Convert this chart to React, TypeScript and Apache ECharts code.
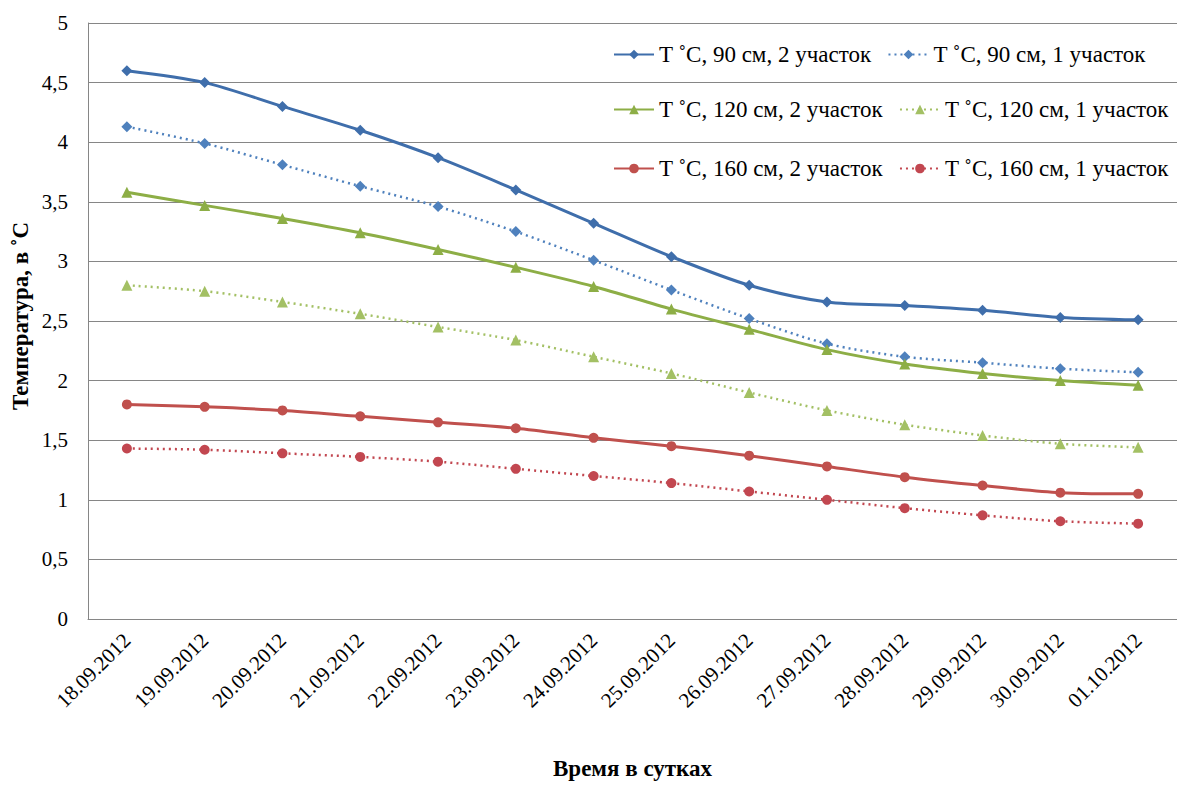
import React, { useEffect, useRef } from "react";
import * as echarts from "echarts";

const categories = [
  "18.09.2012", "19.09.2012", "20.09.2012", "21.09.2012", "22.09.2012", "23.09.2012", "24.09.2012",
  "25.09.2012", "26.09.2012", "27.09.2012", "28.09.2012", "29.09.2012", "30.09.2012", "01.10.2012",
];
const t90s2 = [4.6, 4.5, 4.3, 4.1, 3.87, 3.6, 3.32, 3.04, 2.8, 2.66, 2.63, 2.59, 2.53, 2.51];
const t90s1 = [4.13, 3.99, 3.81, 3.63, 3.46, 3.25, 3.01, 2.76, 2.52, 2.31, 2.2, 2.15, 2.1, 2.07];
const t120s2 = [3.58, 3.47, 3.36, 3.24, 3.1, 2.95, 2.79, 2.6, 2.43, 2.26, 2.14, 2.06, 2.0, 1.96];
const t120s1 = [2.8, 2.75, 2.66, 2.56, 2.45, 2.34, 2.2, 2.06, 1.9, 1.75, 1.63, 1.54, 1.47, 1.44];
const t160s2 = [1.8, 1.78, 1.75, 1.7, 1.65, 1.6, 1.52, 1.45, 1.37, 1.28, 1.19, 1.12, 1.06, 1.05];
const t160s1 = [1.43, 1.42, 1.39, 1.36, 1.32, 1.26, 1.2, 1.14, 1.07, 1.0, 0.93, 0.87, 0.82, 0.8];

const names = [
  "T ˚C, 90 см, 2 участок",
  "T ˚C, 90 см, 1 участок",
  "T ˚C, 120 см, 2 участок",
  "T ˚C, 120 см, 1 участок",
  "T ˚C, 160 см, 2 участок",
  "T ˚C, 160 см, 1 участок",
];
const xTitle = "Время в сутках";
const yTitle = "Температура, в ˚С";

const FONT = "'Liberation Serif', 'Times New Roman', 'DejaVu Serif', serif";
const BLUE_S = "#3F6EAB";
const BLUE_D = "#4F81BD";
const GREEN_S = "#8DAE46";
const GREEN_D = "#A3C064";
const RED_S = "#C0504D";
const RED_D = "#C24750";

export default function App() {
  const ref = useRef<HTMLDivElement>(null);
  useEffect(() => {
    if (!ref.current) return;
    const chart = echarts.init(ref.current, null, { renderer: "svg" });
    const mk = (name: string, data: number[], color: string, symbol: string, dotted: boolean, size: number) => ({
      name,
      type: "line",
      data,
      smooth: 0.3,
      symbol,
      symbolSize: size,
      itemStyle: { color },
      lineStyle: { color, width: dotted ? 2.5 : 3, type: dotted ? [2, 4] : "solid" },
      z: dotted ? 2 : 3,
    });
    const legendBase = {
      orient: "horizontal",
      itemWidth: 40,
      itemHeight: 12,
      itemGap: 16,
      textStyle: { fontFamily: FONT, fontSize: 23, color: "#000" },
    };
    chart.setOption({
      animation: false,
      textStyle: { fontFamily: FONT },
      grid: { left: 88, right: 0, top: 23, bottom: 151, containLabel: false },
      legend: [
        { ...legendBase, data: [names[0], names[1]], left: 608, top: 38 },
        { ...legendBase, data: [names[2], names[3]], left: 608, top: 93 },
        { ...legendBase, data: [names[4], names[5]], left: 608, top: 152 },
      ],
      graphic: [
        {
          type: "text",
          x: 20,
          y: 316,
          rotation: Math.PI / 2,
          style: {
            text: yTitle,
            fontFamily: FONT,
            fontSize: 23,
            fontWeight: "bold",
            fill: "#000",
            align: "center",
            verticalAlign: "middle",
          },
        },
      ],
      xAxis: {
        type: "category",
        data: categories,
        boundaryGap: true,
        name: xTitle,
        nameLocation: "middle",
        nameGap: 138,
        nameTextStyle: { fontFamily: FONT, fontSize: 23, fontWeight: "bold", color: "#000" },
        axisLine: { lineStyle: { color: "#868686", width: 1 } },
        axisTick: { show: false },
        axisLabel: { rotate: 45, fontFamily: FONT, fontSize: 21, color: "#000", margin: 18 },
      },
      yAxis: {
        type: "value",
        min: 0,
        max: 5,
        interval: 0.5,
        axisLine: { show: true, lineStyle: { color: "#868686", width: 1 } },
        axisTick: { show: false },
        splitLine: { lineStyle: { color: "#868686", width: 1 } },
        axisLabel: {
          fontFamily: FONT,
          fontSize: 21,
          color: "#000",
          margin: 20,
          formatter: (v: number) => String(v).replace(".", ","),
        },
      },
      series: [
        mk(names[0], t90s2, BLUE_S, "diamond", false, 11),
        mk(names[1], t90s1, BLUE_D, "diamond", true, 11),
        mk(names[2], t120s2, GREEN_S, "triangle", false, 11),
        mk(names[3], t120s1, GREEN_D, "triangle", true, 11),
        mk(names[4], t160s2, RED_S, "circle", false, 10),
        mk(names[5], t160s1, RED_D, "circle", true, 10),
      ],
    });
    return () => chart.dispose();
  }, []);
  return <div ref={ref} style={{ width: 1177, height: 785, position: "absolute", left: 0, top: 0, background: "#fff" }} />;
}
